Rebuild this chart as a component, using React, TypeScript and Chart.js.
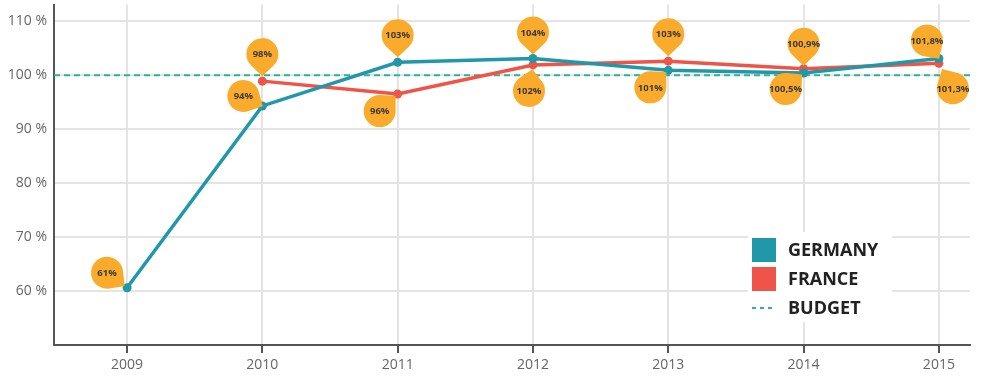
import React, { useEffect, useRef } from "react";
import { Chart, registerables } from "chart.js";

Chart.register(...registerables);

const years = ["2009", "2010", "2011", "2012", "2013", "2014", "2015"];
const germany = [60.6, 94.3, 102.4, 103.1, 100.9, 100.4, 103.1];
const france = [null, 98.9, 96.5, 101.9, 102.6, 101.2, 102.2];
const germanyLabels = ["61%", "94%", "103%", "104%", "101%", "100,5%", "101,8%"];
const franceLabels = [null, "98%", "96%", "102%", "103%", "100,9%", "101,3%"];
const budget = 100;
const yTicks = [60, 70, 80, 90, 100, 110];

// bubble placement (pixel offsets of bubble centre from the point)
const germanyBubbleOffsets = [[-20, -15], [-19, -10], [0, -27], [0, -26], [-18, 17], [-18, 16], [-12, -18]];
const franceBubbleOffsets = [null, [0, -27], [-18, 17], [-4, 26], [0, -27], [0, -25], [14, 25]];

const GERMANY_COLOR = "#2197aa";
const FRANCE_COLOR = "#ee5447";
const BUDGET_COLOR = "#2bb597";
const BUBBLE_COLOR = "#fbab2c";
const BUBBLE_R = 16;
const TIP_DIST = 22;

function drawPin(ctx: CanvasRenderingContext2D, cx: number, cy: number, tx: number, ty: number, r: number) {
  const dx = tx - cx;
  const dy = ty - cy;
  const d = Math.sqrt(dx * dx + dy * dy);
  ctx.beginPath();
  if (d <= r + 1) {
    ctx.arc(cx, cy, r, 0, Math.PI * 2);
  } else {
    const th = Math.atan2(dy, dx);
    const a = Math.acos(r / d);
    ctx.moveTo(tx, ty);
    ctx.arc(cx, cy, r, th + a, th - a + Math.PI * 2);
    ctx.closePath();
  }
  ctx.fill();
}

const budgetPlugin = {
  id: "budgetLine",
  beforeDatasetsDraw(chart: any) {
    const { ctx, chartArea, scales } = chart;
    const y = scales.y.getPixelForValue(budget);
    ctx.save();
    ctx.strokeStyle = BUDGET_COLOR;
    ctx.lineWidth = 2;
    ctx.setLineDash([6, 4]);
    ctx.beginPath();
    ctx.moveTo(chartArea.left, y);
    ctx.lineTo(chartArea.right, y);
    ctx.stroke();
    ctx.restore();
  },
};

const bubblePlugin = {
  id: "bubbles",
  afterDatasetsDraw(chart: any) {
    const { ctx } = chart;
    const sets: [number, (string | null)[], any[]][] = [
      [0, germanyLabels, germanyBubbleOffsets],
      [1, franceLabels, franceBubbleOffsets],
    ];
    ctx.save();
    for (const [di, labels, offs] of sets) {
      const meta = chart.getDatasetMeta(di);
      meta.data.forEach((pt: any, i: number) => {
        const lab = labels[i];
        const off = offs[i];
        if (!lab || !off || pt.skip) return;
        const cx = pt.x + off[0];
        const cy = pt.y + off[1];
        const dd = Math.sqrt(off[0] * off[0] + off[1] * off[1]);
        const tx = cx - (off[0] / dd) * TIP_DIST;
        const ty = cy - (off[1] / dd) * TIP_DIST;
        ctx.fillStyle = BUBBLE_COLOR;
        drawPin(ctx, cx, cy, tx, ty, BUBBLE_R);
        ctx.fillStyle = "#3a3a3a";
        ctx.font = "bold 9.5px 'Open Sans', sans-serif";
        ctx.textAlign = "center";
        ctx.textBaseline = "middle";
        ctx.fillText(lab, cx, cy + 0.5);
      });
    }
    ctx.restore();
  },
};

const legendPlugin = {
  id: "customLegend",
  afterDraw(chart: any) {
    const { ctx } = chart;
    ctx.save();
    ctx.fillStyle = "#ffffff";
    ctx.fillRect(748, 232, 144, 90);
    const x0 = 752;
    const rows = [
      { label: "GERMANY", color: GERMANY_COLOR, type: "box" },
      { label: "FRANCE", color: FRANCE_COLOR, type: "box" },
      { label: "BUDGET", color: BUDGET_COLOR, type: "dash" },
    ];
    rows.forEach((r, i) => {
      const cy = 250 + i * 29;
      if (r.type === "box") {
        ctx.fillStyle = r.color;
        ctx.fillRect(x0, cy - 12, 24, 24);
      } else {
        ctx.strokeStyle = r.color;
        ctx.lineWidth = 2;
        ctx.setLineDash([4, 4]);
        ctx.beginPath();
        ctx.moveTo(x0, cy);
        ctx.lineTo(x0 + 24, cy);
        ctx.stroke();
        ctx.setLineDash([]);
      }
      ctx.fillStyle = "#222222";
      ctx.font = "bold 18px 'Open Sans', sans-serif";
      ctx.textAlign = "left";
      ctx.textBaseline = "middle";
      ctx.fillText(r.label, 788, cy + 1);
    });
    ctx.restore();
  },
};

export default function App() {
  const ref = useRef<HTMLCanvasElement | null>(null);
  useEffect(() => {
    if (!ref.current) return;
    Chart.defaults.font.family = "'Open Sans', sans-serif";
    const chart = new Chart(ref.current, {
      type: "line",
      data: {
        datasets: [
          {
            label: "GERMANY",
            data: germany.map((v, i) => ({ x: i, y: v })),
            borderColor: GERMANY_COLOR,
            backgroundColor: GERMANY_COLOR,
            pointBackgroundColor: GERMANY_COLOR,
            borderWidth: 3.5,
            pointRadius: 4.5,
            pointBorderWidth: 0,
            tension: 0,
          },
          {
            label: "FRANCE",
            data: france.map((v, i) => ({ x: i, y: v as any })),
            borderColor: FRANCE_COLOR,
            backgroundColor: FRANCE_COLOR,
            pointBackgroundColor: FRANCE_COLOR,
            borderWidth: 3.5,
            pointRadius: 4.5,
            pointBorderWidth: 0,
            tension: 0,
            spanGaps: false,
          },
        ],
      },
      options: {
        animation: false,
        responsive: false,
        maintainAspectRatio: false,
        layout: { padding: { top: 3, right: 11, left: 0, bottom: 0 } },
        plugins: { legend: { display: false }, tooltip: { enabled: false } },
        scales: {
          x: {
            type: "linear",
            min: -0.54,
            max: 6.23,
            afterBuildTicks: (scale: any) => {
              scale.ticks = years.map((_, i) => ({ value: i }));
            },
            afterFit: (scale: any) => {
              scale.height = 35;
              scale.paddingLeft = 0;
              scale.paddingRight = 0;
            },
            ticks: {
              autoSkip: false,
              maxRotation: 0,
              color: "#666",
              font: { size: 14 },
              padding: 4,
              callback: (v: any) => years[v as number] ?? "",
            },
            grid: {
              color: "#e4e4e4",
              lineWidth: 2,
              drawTicks: true,
              tickLength: 8,
              tickColor: "#555",
              tickWidth: 2,
            },
            border: { color: "#555", width: 2 },
          },
          y: {
            type: "linear",
            min: 50,
            max: 113.1,
            afterBuildTicks: (scale: any) => {
              scale.ticks = yTicks.map((v) => ({ value: v }));
            },
            afterFit: (scale: any) => {
              scale.width = 54;
              scale.paddingTop = 0;
              scale.paddingBottom = 0;
            },
            ticks: {
              color: "#666",
              font: { size: 14 },
              padding: 7,
              callback: (v: any) => v + " %",
            },
            grid: {
              color: "#e4e4e4",
              lineWidth: 2,
              drawTicks: false,
            },
            border: { color: "#555", width: 2 },
          },
        },
      },
      plugins: [budgetPlugin, bubblePlugin, legendPlugin],
    } as any);
    return () => chart.destroy();
  }, []);
  return (
    <div style={{ position: "fixed", left: 0, top: 0, width: 981, height: 380, background: "#fff" }}>
      <canvas ref={ref} width={981} height={380} style={{ width: 981, height: 380, display: "block" }} />
    </div>
  );
}
